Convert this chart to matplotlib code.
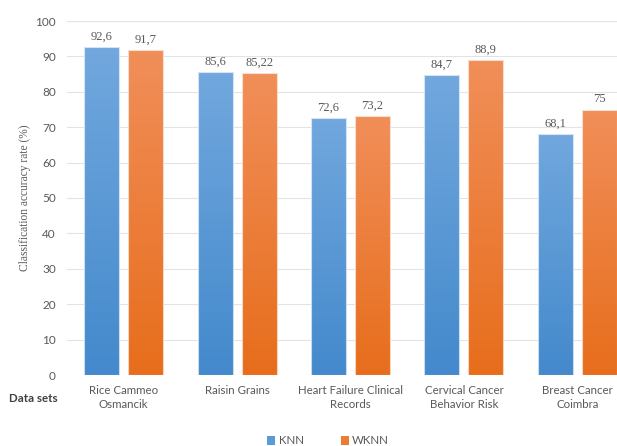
import numpy as np
import matplotlib
matplotlib.use("Agg")
import matplotlib.pyplot as plt
from matplotlib.colors import to_rgb
from matplotlib.patches import Patch

categories = ["Rice Cammeo\nOsmancik", "Raisin Grains", "Heart Failure Clinical\nRecords",
              "Cervical Cancer\nBehavior Risk", "Breast Cancer\nCoimbra"]
knn = [92.6, 85.6, 72.6, 84.7, 68.1]
wknn = [91.7, 85.22, 73.2, 88.9, 75]
series_names = ["KNN", "WKNN"]
yticks = [0, 10, 20, 30, 40, 50, 60, 70, 80, 90, 100]

W, H = 617, 446
fig = plt.figure(figsize=(W / 100, H / 100), dpi=100)
left, right_px = 67, 67 + 5 * 113.4
bottom_px, top_px = 375, 21
ax = fig.add_axes([left / W, 1 - bottom_px / H, (right_px - left) / W, (bottom_px - top_px) / H])

x = np.arange(len(categories))
bw = 0.31
off = 0.194
grads = {
    "KNN": (to_rgb("#72a8de"), to_rgb("#4389cc")),
    "WKNN": (to_rgb("#f18f5a"), to_rgb("#e76d1b")),
}
mids = {"KNN": "#5b9bd5", "WKNN": "#ed7d31"}

txtcol = "#595959"
for vals, name, sgn in [(knn, "KNN", -1), (wknn, "WKNN", 1)]:
    bars = ax.bar(x + sgn * off, vals, bw, facecolor="none", edgecolor=(1, 1, 1, 0.7),
                  linewidth=0.8, zorder=3)
    top_c, bot_c = grads[name]
    for b, v in zip(bars, vals):
        n = 128
        t = np.linspace(0, 1, n)
        img = np.zeros((n, 1, 3))
        for k in range(3):
            img[:, 0, k] = top_c[k] * (1 - t) + bot_c[k] * t
        x0 = b.get_x()
        im = ax.imshow(img, extent=(x0 - 0.02, x0 + bw + 0.02, -1, v + 1), aspect="auto",
                       zorder=2.5, interpolation="bilinear")
        im.set_clip_path(b)
        ax.annotate(f"{v:g}".replace(".", ","), (x0 + bw / 2, v), xytext=(0, 3),
                    textcoords="offset points", ha="center", va="bottom",
                    fontsize=9, family="Liberation Serif", color=txtcol)

ax.set_xlim(-0.5, 4.5)
ax.set_ylim(0, 100)
ax.set_yticks(yticks)
ax.set_yticklabels([str(t) for t in yticks], fontsize=8.5, family="Lato", color=txtcol)
ax.set_xticks(x)
ax.set_xticklabels(categories, fontsize=8.3, family="Lato", color=txtcol, linespacing=1.35)
ax.tick_params(axis="both", length=0)
ax.tick_params(axis="x", pad=7)
ax.tick_params(axis="y", pad=8)
ax.grid(axis="y", color="#e3e3e3", linewidth=0.8, zorder=0)
ax.set_axisbelow(True)
for s in ax.spines.values():
    s.set_visible(False)

fig.text(25 / W, 1 - 198 / H, "Classification accuracy rate (%)", rotation=90,
         ha="center", va="center", fontsize=8.3, family="Liberation Serif", color=txtcol)
fig.text(9 / W, 1 - 399 / H, "Data sets", ha="left", va="center", fontsize=8.3,
         family="Lato", fontweight="bold", color="#404040")

handles = [Patch(facecolor=mids[n], edgecolor="none") for n in series_names]
leg = fig.legend(handles, series_names, loc="center", bbox_to_anchor=(328 / W, 1 - 441 / H),
                 ncol=2, frameon=False, handlelength=0.7, handleheight=0.7, handletextpad=0.3,
                 columnspacing=3.2, prop={"family": "Lato", "size": 8.3})
for t in leg.get_texts():
    t.set_color(txtcol)

fig.savefig("out.png", dpi=100)
